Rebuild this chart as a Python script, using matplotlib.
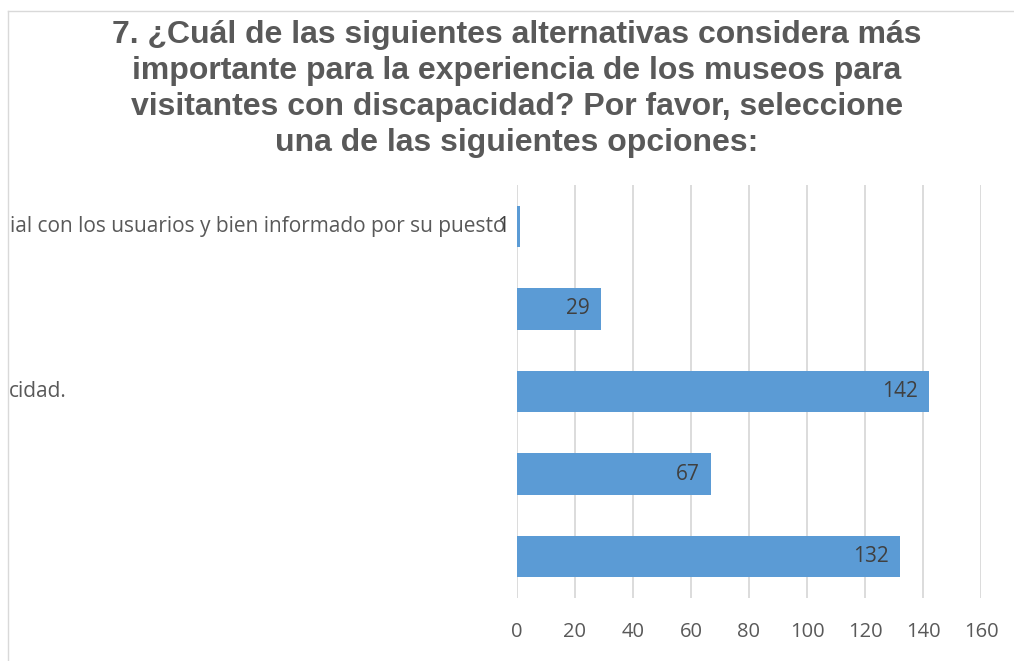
import matplotlib.pyplot as plt
from matplotlib.lines import Line2D
from matplotlib.transforms import blended_transform_factory

W, H = 1014, 661

titulo = ("7. ¿Cuál de las siguientes alternativas considera más\n"
          "importante para la experiencia de los museos para\n"
          "visitantes con discapacidad? Por favor, seleccione\n"
          "una de las siguientes opciones:")

# categorías de arriba abajo (etiquetas recortadas como en la imagen)
etiquetas = ["ial con los usuarios y bien informado por su puesto", "", "cidad.", "", ""]
valores = [1, 29, 142, 67, 132]
ticks_x = [0, 20, 40, 60, 80, 100, 120, 140, 160]

AZUL = "#5B9BD5"
GRIS = "#595959"
REJILLA = "#D9D9D9"

fig = plt.figure(figsize=(W / 100, H / 100), dpi=100)
ax = fig.add_axes([517 / W, 1 - 598 / H, (981 - 517) / W, (598 - 185) / H])

pos = list(range(len(valores)))
ax.barh(pos, valores, height=0.5, color=AZUL, zorder=3)
ax.set_ylim(len(valores) - 0.5, -0.5)
ax.set_xlim(0, 160)
ax.set_xticks(ticks_x)
ax.set_xticklabels([str(t) for t in ticks_x], family="Open Sans", fontsize=14.5, color=GRIS)
ax.tick_params(axis="x", length=0, pad=17)
ax.set_yticks([])
ax.grid(axis="x", color=REJILLA, linewidth=1.3, zorder=0)
for s in ax.spines.values():
    s.set_visible(False)

# etiquetas de valor en el extremo interior
for p, v in zip(pos, valores):
    ax.annotate(str(v), (v, p), xytext=(-8, 0), textcoords="offset points",
                ha="right", va="center", family="Open Sans", fontsize=15,
                color="#404040", zorder=4)

# etiquetas de categoría
tr = blended_transform_factory(fig.transFigure, ax.transData)
for p, lab in zip(pos, etiquetas):
    if not lab:
        continue
    if p == 0:
        ax.text(505 / W, p, lab, transform=tr, ha="right", va="center",
                family="Open Sans", fontsize=15, color=GRIS)
    else:
        ax.text(9 / W, p, lab, transform=tr, ha="left", va="center",
                family="Open Sans", fontsize=15, color=GRIS)

fig.text(517 / W, 1 - 20 / H, titulo, ha="center", va="top", family="Liberation Sans",
         fontweight="bold", fontsize=23, color=GRIS, linespacing=1.26, multialignment="center")

# borde del gráfico
fig.add_artist(Line2D([8 / W, 8 / W], [0, 1 - 11 / H], transform=fig.transFigure,
                      color=REJILLA, linewidth=1))
fig.add_artist(Line2D([8 / W, 1], [1 - 11 / H, 1 - 11 / H], transform=fig.transFigure,
                      color=REJILLA, linewidth=1))

fig.savefig("out.png", dpi=100)
